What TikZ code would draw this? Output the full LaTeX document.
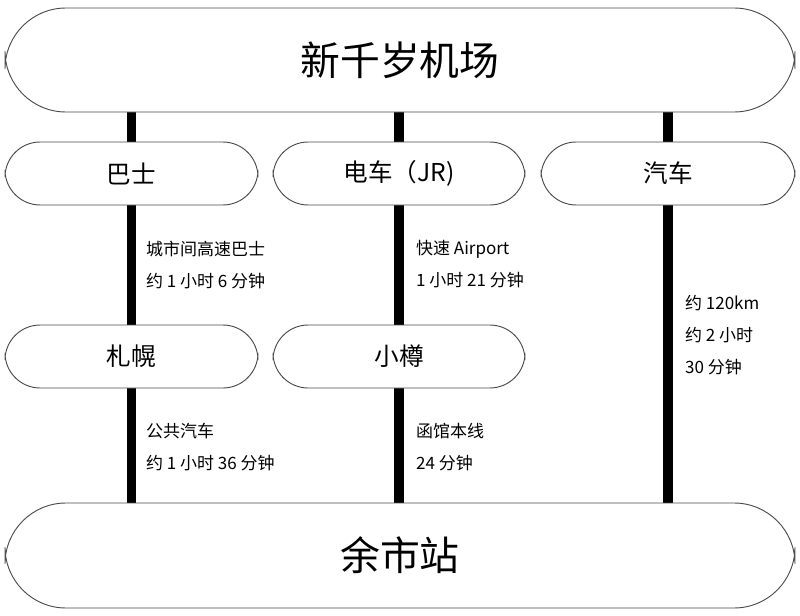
\documentclass[tikz,border=0pt]{standalone}
\usepackage{fontspec}
\setmainfont{Noto Sans CJK SC}
\usetikzlibrary{backgrounds}
\begin{document}
\begin{tikzpicture}[x=0.03cm,y=-0.03cm,
  box/.style={draw=black!70,line width=0.8pt,fill=white,rounded corners=#1,inner sep=0pt},
  lbl/.style={font=\fontsize{21}{24}\selectfont},
  note/.style={font=\fontsize{14.5}{27}\selectfont,align=left,anchor=west},
  rail/.style={line width=8.5pt}]
\useasboundingbox (0,0) rectangle (800,616);
\node[box=52pt,minimum width=790*0.03cm,minimum height=104*0.03cm] (air) at (400,60) {};
\node[font=\fontsize{34}{40}\selectfont] at (air) {新千岁机场};
\node[box=30pt,minimum width=253*0.03cm,minimum height=63*0.03cm] (bus) at (131.5,173.5) {};
\node[lbl] at (bus) {巴士};
\node[box=30pt,minimum width=252*0.03cm,minimum height=63*0.03cm] (jr) at (399,173.5) {};
\node[lbl] at (jr) {电车（JR)};
\node[box=30pt,minimum width=254*0.03cm,minimum height=63*0.03cm] (car) at (668,173.5) {};
\node[lbl] at (car) {汽车};
\node[box=30pt,minimum width=253*0.03cm,minimum height=63*0.03cm] (spk) at (131.5,356.5) {};
\node[lbl] at (spk) {札幌};
\node[box=30pt,minimum width=252*0.03cm,minimum height=63*0.03cm] (otr) at (399,356.5) {};
\node[lbl] at (otr) {小樽};
\node[box=52pt,minimum width=790*0.03cm,minimum height=105*0.03cm] (yoi) at (400,555.5) {};
\node[font=\fontsize{34}{40}\selectfont] at (yoi) {余市站};
\begin{scope}[on background layer]
\draw[rail] (air.south -| bus) -- (yoi.north -| bus);
\draw[rail] (air.south -| jr) -- (yoi.north -| jr);
\draw[rail] (air.south -| car) -- (yoi.north -| car);
\end{scope}
\node[note] (n1) at (142,265) {城市间高速巴士\\约 1 小时 6 分钟};
\node[note] (n2) at (412,264) {快速 Airport\\1 小时 21 分钟};
\node[note] (n3) at (681,335) {约 120km\\约 2 小时\\30 分钟};
\node[note] (n4) at (142,447) {公共汽车\\约 1 小时 36 分钟};
\node[note] (n5) at (412,447) {函馆本线\\24 分钟};
\end{tikzpicture}
\end{document}
